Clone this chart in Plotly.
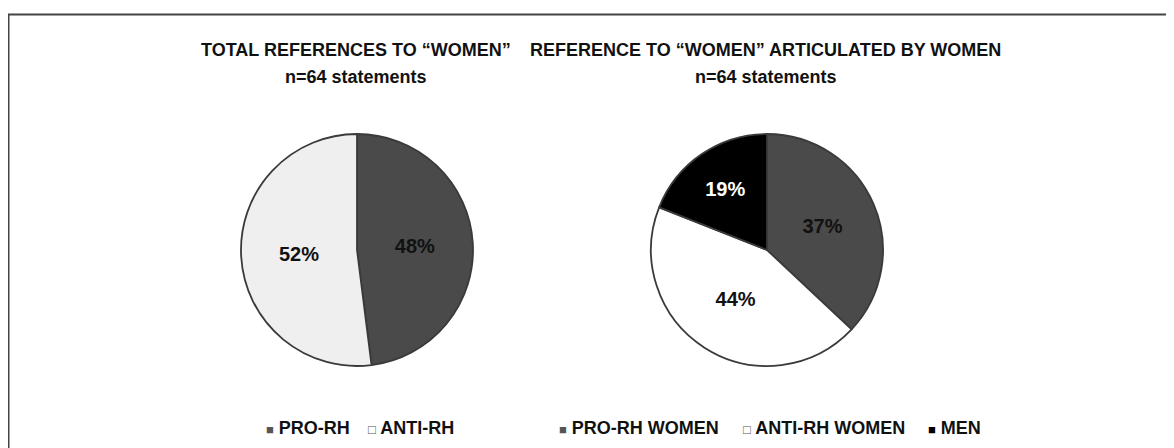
import plotly.graph_objects as go

W, H = 1174, 448
OFF = 8  # page body margin of the browser

# Data
labels1 = ["PRO-RH", "ANTI-RH"]
values1 = [48, 52]
labels2 = ["PRO-RH WOMEN", "ANTI-RH WOMEN", "MEN"]
values2 = [37, 44, 19]
title1 = ["TOTAL REFERENCES TO \u201cWOMEN\u201d", "n=64 statements"]
title2 = ["REFERENCE TO \u201cWOMEN\u201d ARTICULATED BY WOMEN", "n=64 statements"]

colors1 = ["#4a4a4a", "#efefef"]
colors2 = ["#4a4a4a", "#ffffff", "#000000"]
textcol1 = ["#111111", "#111111"]
textcol2 = ["#111111", "#111111", "#ffffff"]
symcol1 = ["#555555", "#555555"]
symcol2 = ["#555555", "#555555", "#000000"]

FONT = "Liberation Sans, Arial, sans-serif"


def px_domain(cx, cy, r):
    cx -= OFF
    cy -= OFF
    return dict(x=[(cx - r) / W, (cx + r) / W], y=[(H - cy - r) / H, (H - cy + r) / H])


R = 116
fig = go.Figure()
fig.add_trace(go.Pie(
    labels=labels1, values=values1, sort=False, direction="clockwise", rotation=0,
    marker=dict(colors=colors1, line=dict(color="#3a3a3a", width=1.8)),
    texttemplate="%{value}%", textposition="inside", insidetextorientation="horizontal",
    textfont=dict(family=FONT, size=20, color=textcol1, weight="bold"),
    domain=px_domain(357, 250, R), showlegend=False, hoverinfo="label+percent",
))
fig.add_trace(go.Pie(
    labels=labels2, values=values2, sort=False, direction="clockwise", rotation=0,
    marker=dict(colors=colors2, line=dict(color="#3a3a3a", width=1.8)),
    texttemplate="%{value}%", textposition="inside", insidetextorientation="horizontal",
    textfont=dict(family=FONT, size=20, color=textcol2, weight="bold"),
    domain=px_domain(767, 250, R), showlegend=False, hoverinfo="label+percent",
))

ann = []
def add_text(x, y, text, size, xanchor="center"):
    x -= OFF
    y -= OFF
    ann.append(dict(x=x / W, y=1 - y / H, xref="paper", yref="paper", text=text,
                    showarrow=False, xanchor=xanchor, yanchor="middle",
                    font=dict(family=FONT, size=size, color="#111111", weight="bold")))

add_text(356, 50, title1[0], 18)
add_text(356, 77, title1[1], 18)
add_text(766, 50, title2[0], 18)
add_text(766, 77, title2[1], 18)

# legends (text with square glyphs)
def sym(ch, col):
    return '<span style="color:%s;font-size:13px">%s</span> ' % (col, ch)

legend1_x = [264, 366]
for lab, x, s, c in zip(labels1, legend1_x, ["\u25a0", "\u25a1"], symcol1):
    add_text(x, 428, sym(s, c) + lab, 18, xanchor="left")
legend2_x = [557, 741, 926]
for lab, x, s, c in zip(labels2, legend2_x, ["\u25a0", "\u25a1", "\u25a0"], symcol2):
    add_text(x, 428, sym(s, c) + lab, 18, xanchor="left")

fig.update_layout(
    width=W, height=H, margin=dict(l=0, r=0, t=0, b=0),
    paper_bgcolor="white", plot_bgcolor="white",
    annotations=ann,
    shapes=[dict(type="rect", xref="paper", yref="paper",
                 x0=(8.5 - OFF) / W, x1=1.05, y0=-0.1, y1=1 - (14.5 - OFF) / H,
                 line=dict(color="#444444", width=2))],
)
fig.write_html("out.html")
